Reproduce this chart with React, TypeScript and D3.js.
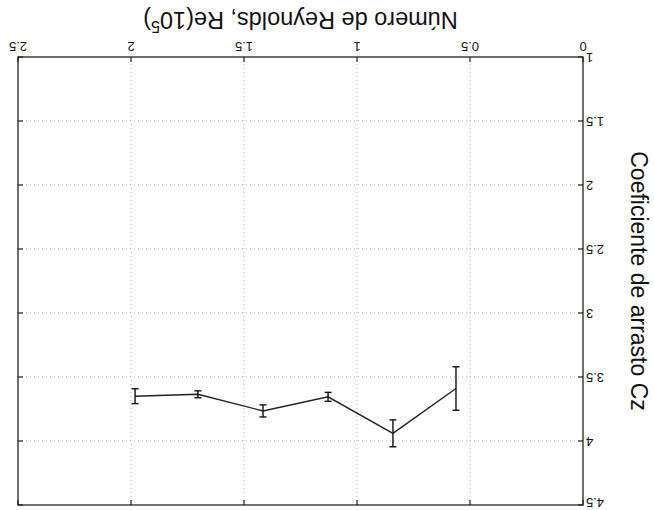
import React from "react";
import * as d3 from "d3";

// Reynolds number (x 10^5) and measured drag coefficient with its spread
const reynolds = [0.562, 0.841, 1.128, 1.416, 1.704, 1.982];
const dragCoef = [3.59, 3.94, 3.655, 3.765, 3.635, 3.65];
const dragErr = [0.17, 0.105, 0.035, 0.047, 0.027, 0.058];

const xTicks = [0, 0.5, 1, 1.5, 2, 2.5];
const yTicks = [1, 1.5, 2, 2.5, 3, 3.5, 4, 4.5];

const W = 654;
const H = 510;
const M = { left: 71, right: 636, top: 5, bottom: 453 };
const FONT = "'Liberation Sans', Arial, Helvetica, sans-serif";

export default function App() {
  const x = d3.scaleLinear().domain([0, 2.5]).range([M.left, M.right]);
  const y = d3.scaleLinear().domain([1, 4.5]).range([M.bottom, M.top]);

  const pts = reynolds.map((r, i) => ({ r, c: dragCoef[i], e: dragErr[i] }));
  const line = d3
    .line<{ r: number; c: number }>()
    .x((d) => x(d.r))
    .y((d) => y(d.c));

  const tickLen = 5;
  const cap = 3.5;

  return (
    <svg
      width={W}
      height={H}
      style={{ position: "absolute", left: 0, top: 0, background: "#fff" }}
    >
      <g transform={`rotate(180 ${W / 2} ${H / 2})`}>
        {/* grid */}
        {xTicks.slice(1, -1).map((t) => (
          <line
            key={"gx" + t}
            x1={x(t)}
            x2={x(t)}
            y1={M.top}
            y2={M.bottom}
            stroke="#b0b0b0"
            strokeWidth={1}
            strokeDasharray="1 3"
          />
        ))}
        {yTicks.slice(1, -1).map((t) => (
          <line
            key={"gy" + t}
            x1={M.left}
            x2={M.right}
            y1={y(t)}
            y2={y(t)}
            stroke="#b0b0b0"
            strokeWidth={1}
            strokeDasharray="1 3"
          />
        ))}

        {/* box */}
        <rect
          x={M.left}
          y={M.top}
          width={M.right - M.left}
          height={M.bottom - M.top}
          fill="none"
          stroke="#222"
          strokeWidth={1.3}
        />

        {/* ticks on all four sides, pointing inward */}
        {xTicks.map((t) => (
          <g key={"tx" + t}>
            <line x1={x(t)} x2={x(t)} y1={M.bottom} y2={M.bottom - tickLen} stroke="#222" strokeWidth={1.2} />
            <line x1={x(t)} x2={x(t)} y1={M.top} y2={M.top + tickLen} stroke="#222" strokeWidth={1.2} />
            <text
              x={x(t)}
              y={M.bottom + 15}
              textAnchor="middle"
              fontFamily={FONT}
              fontSize={13}
              fill="#111"
            >
              {t}
            </text>
          </g>
        ))}
        {yTicks.map((t) => (
          <g key={"ty" + t}>
            <line x1={M.left} x2={M.left + tickLen} y1={y(t)} y2={y(t)} stroke="#222" strokeWidth={1.2} />
            <line x1={M.right} x2={M.right - tickLen} y1={y(t)} y2={y(t)} stroke="#222" strokeWidth={1.2} />
            <text
              x={M.left - 3}
              y={Math.max(y(t) + 4.5, 12.5)}
              textAnchor="end"
              fontFamily={FONT}
              fontSize={13}
              fill="#111"
            >
              {t}
            </text>
          </g>
        ))}

        {/* data line */}
        <path d={line(pts) || ""} fill="none" stroke="#222" strokeWidth={1.4} />

        {/* error bars */}
        {pts.map((p, i) => (
          <g key={"e" + i} stroke="#111" strokeWidth={1.4}>
            <line x1={x(p.r)} x2={x(p.r)} y1={y(p.c - p.e)} y2={y(p.c + p.e)} />
            <line x1={x(p.r) - cap} x2={x(p.r) + cap} y1={y(p.c - p.e)} y2={y(p.c - p.e)} />
            <line x1={x(p.r) - cap} x2={x(p.r) + cap} y1={y(p.c + p.e)} y2={y(p.c + p.e)} />
          </g>
        ))}

        {/* axis labels */}
        <text
          x={(M.left + M.right) / 2}
          y={498}
          textAnchor="middle"
          fontFamily={FONT}
          fontSize={23.5}
          fill="#111"
        >
          Número de Reynolds, Re(10
          <tspan dy={-9} fontSize={16}>5</tspan>
          <tspan dy={9}>)</tspan>
        </text>
        <text
          transform={`translate(23 ${(M.top + M.bottom) / 2}) rotate(-90)`}
          textAnchor="middle"
          fontFamily={FONT}
          fontSize={23}
          fill="#111"
        >
          Coeficiente de arrasto Cz
        </text>
      </g>
    </svg>
  );
}
